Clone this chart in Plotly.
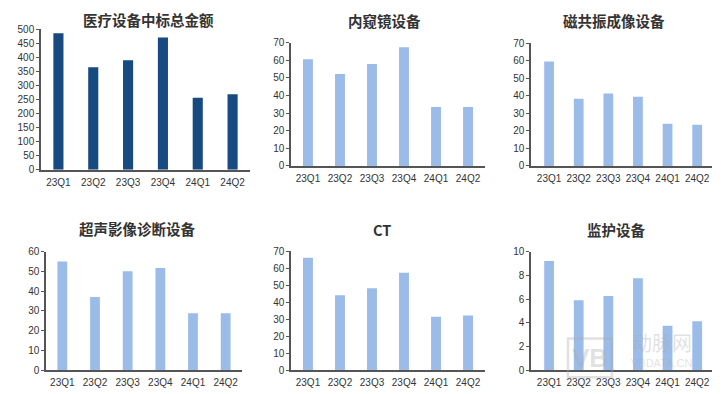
import plotly.graph_objects as go

W, H = 721, 394

quarters = ["23Q1", "23Q2", "23Q3", "23Q4", "24Q1", "24Q2"]

titles = ["医疗设备中标总金额", "内窥镜设备", "磁共振成像设备",
          "超声影像诊断设备", "CT", "监护设备"]

total_amount = [486, 365, 390, 471, 256, 269]
endoscope = [60.5, 52.2, 57.9, 67.4, 33.5, 33.5]
mri = [59.5, 38.3, 41.3, 39.4, 24.0, 23.5]
ultrasound = [55.0, 37.0, 50.0, 51.7, 28.8, 28.8]
ct = [66.0, 44.0, 48.2, 57.3, 31.4, 32.1]
monitor = [9.2, 5.9, 6.25, 7.75, 3.75, 4.12]

series = [total_amount, endoscope, mri, ultrasound, ct, monitor]

# panel layout in pixels: (x_left, x_right, y_top(max tick), y_bottom(zero), ymax, dtick, xrange, barwidth, title_x, title_y)
panels = [
    (41, 250, 24, 169, 500, 50, [-0.5, 5.5], 0.29, 148, 14),
    (291, 485, 37.7, 165, 70, 10, [-0.53, 5.53], 0.31, 384, 15),
    (531, 712, 38.3, 165, 70, 10, [-0.61, 5.5], 0.33, 614, 15),
    (46, 242, 253.3, 375.7, 60, 10, [-0.5, 5.5], 0.30, 137, 230),
    (291, 485, 252.7, 375.7, 70, 10, [-0.53, 5.53], 0.31, 382, 231),
    (531, 712, 253.3, 375.7, 10, 2, [-0.61, 5.5], 0.33, 616, 231),
]

colors = ["#174A80", "#9BBCE8", "#9BBCE8", "#9BBCE8", "#9BBCE8", "#9BBCE8"]

fig = go.Figure()
layout = dict(
    width=W, height=H,
    margin=dict(l=0, r=0, t=0, b=0),
    paper_bgcolor="white", plot_bgcolor="white",
    showlegend=False,
    font=dict(family="Liberation Sans, Arial", size=10, color="#333333"),
    annotations=[], shapes=[],
)

for i, (vals, p) in enumerate(zip(series, panels)):
    xl, xr, yt, yb, ymax, dt, xrng, bw, tx, ty = p
    k = "" if i == 0 else str(i + 1)
    fig.add_trace(go.Bar(
        x=quarters, y=vals, width=bw,
        marker=dict(color=colors[i], line=dict(width=0)),
        xaxis="x" + k, yaxis="y" + k, hoverinfo="x+y",
    ))
    layout["xaxis" + k] = dict(
        domain=[xl / W, xr / W], anchor="y" + k, range=xrng,
        showline=True, linecolor="#555555", linewidth=1.5,
        ticks="", showgrid=False, zeroline=False,
        tickfont=dict(size=10, color="#333333"),
        ticklabelstandoff=2,
    )
    layout["yaxis" + k] = dict(
        domain=[1 - yb / H, 1 - yt / H], anchor="x" + k, range=[0, ymax],
        dtick=dt, showline=True, linecolor="#555555", linewidth=1.5,
        ticks="outside", ticklen=3, tickcolor="#555555",
        showgrid=False, zeroline=False,
        tickfont=dict(size=10, color="#333333"),
    )
    layout["annotations"].append(dict(
        x=tx / W, y=1 - ty / H, xref="paper", yref="paper",
        text="<b>" + titles[i] + "</b>", showarrow=False,
        font=dict(family="Noto Sans CJK SC", size=14.5, color="#333333"),
        xanchor="center", yanchor="middle",
    ))

# faint watermark
wm = "rgba(170,170,170,0.35)"
layout["shapes"].append(dict(
    type="rect", xref="paper", yref="paper",
    x0=568 / W, x1=612 / W, y0=1 - 383 / H, y1=1 - 343 / H,
    line=dict(color=wm, width=2.5), fillcolor="rgba(0,0,0,0)",
))
layout["annotations"].append(dict(
    x=590 / W, y=1 - 363 / H, xref="paper", yref="paper", text="<b>VB</b>",
    xanchor="center", yanchor="middle",
    showarrow=False, font=dict(family="Liberation Sans", size=26, color=wm),
))
layout["annotations"].append(dict(
    x=662 / W, y=1 - 347 / H, xref="paper", yref="paper", text="动脉网",
    xanchor="center", yanchor="middle", borderpad=0,
    showarrow=False, font=dict(family="Noto Sans CJK SC", size=20, color=wm),
))
layout["annotations"].append(dict(
    x=661 / W, y=1 - 368 / H, xref="paper", yref="paper", text="VBDATA.CN",
    xanchor="center", yanchor="middle", borderpad=0,
    showarrow=False, font=dict(family="Liberation Sans", size=11, color=wm),
))

fig.update_layout(**layout)
fig.write_html("out.html", config={"displayModeBar": False})

with open("out.html", encoding="utf-8") as f:
    html = f.read()
html = html.replace("<head>", "<head><style>html,body{margin:0;padding:0;overflow:hidden;}</style>", 1)
with open("out.html", "w", encoding="utf-8") as f:
    f.write(html)
